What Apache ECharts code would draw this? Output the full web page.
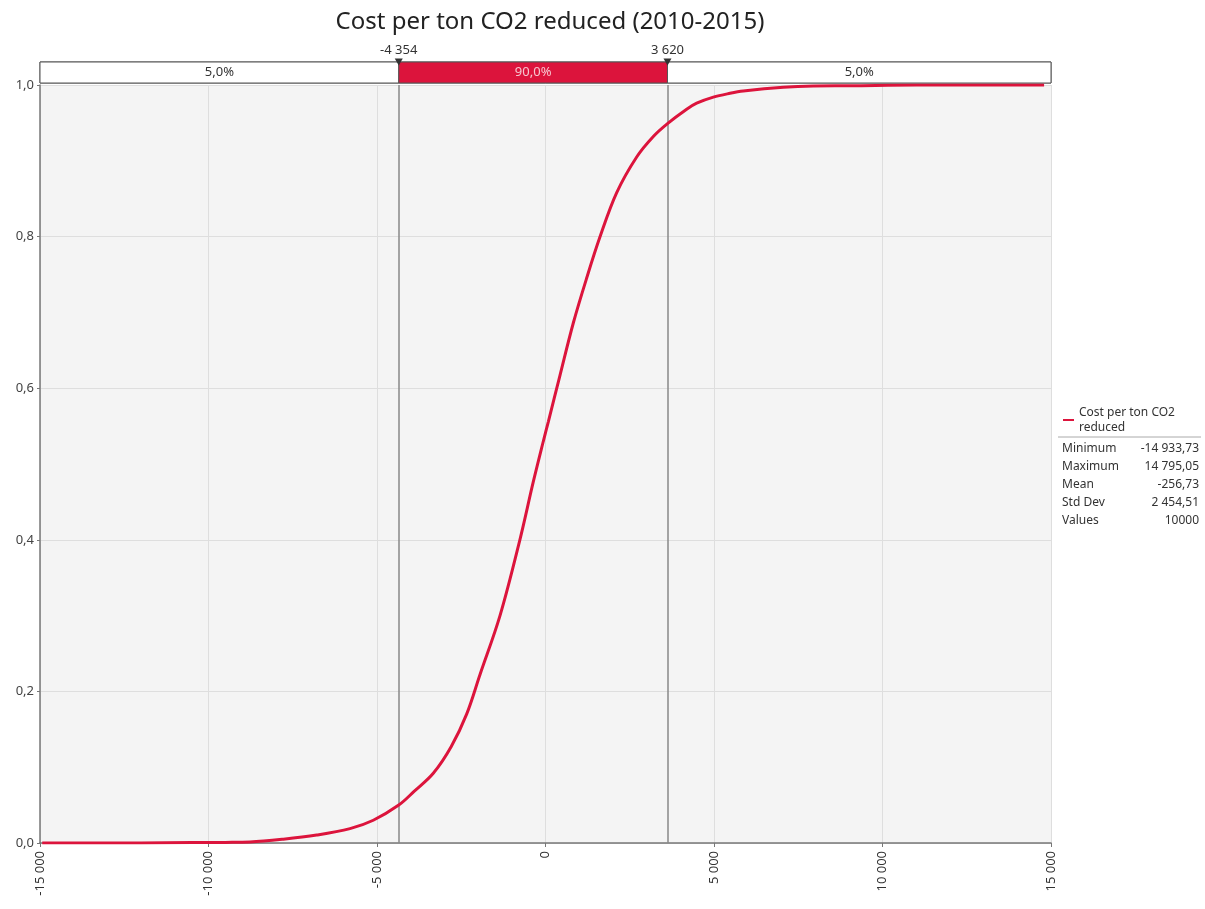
<!DOCTYPE html>
<html>
<head>
<meta charset="utf-8">
<script src="https://cdn.jsdelivr.net/npm/echarts@6/dist/echarts.min.js"></script>
<style>html,body{margin:0;padding:0;background:#fff}#c{width:1205px;height:909px}</style>
</head>
<body>
<div id="c"></div>
<script>
// ---- data ----
const seriesName = 'Cost per ton CO2 reduced';
const cdfX = [-14934, -12000, -10500, -9500, -8769, -7780, -6790, -5801, -5110, -4354, -3900, -3330, -2800, -2340, -1945, -1350, -760, -365, -65, 85, 430, 825, 1220, 1620, 2113, 2706, 3200, 3620, 4189, 4486, 4980, 5475, 5870, 7057, 7947, 9040, 11000, 14795];
const cdfY = [0, 0, 0.0005, 0.0008, 0.0013, 0.005, 0.0105, 0.019, 0.030, 0.050, 0.068, 0.092, 0.127, 0.170, 0.222, 0.300, 0.400, 0.476, 0.530, 0.556, 0.617, 0.686, 0.745, 0.800, 0.858, 0.905, 0.932, 0.949, 0.968, 0.976, 0.984, 0.989, 0.992, 0.997, 0.9987, 0.999, 1.0, 1.0];
const lowerBound = -4354;
const upperBound = 3620;
const bandPct = [5.0, 90.0, 5.0];
const xTicks = [-15000, -10000, -5000, 0, 5000, 10000, 15000];
const yTicks = [0, 0.2, 0.4, 0.6, 0.8, 1.0];
const statLabels = ['Minimum', 'Maximum', 'Mean', 'Std Dev', 'Values'];
const statValues = ['-14 933,73', '14 795,05', '-256,73', '2 454,51', '10000'];

// ---- helpers ----
function fmtThousands(v) {
  const s = Math.abs(Math.round(v)).toString().replace(/\B(?=(\d{3})+(?!\d))/g, ' ');
  return (v < 0 ? '-' : '') + s;
}
function fmtPct(v) { return v.toFixed(1).replace('.', ',') + '%'; }

const FONT = '"Noto Sans", "DejaVu Sans", sans-serif';
const RED = '#dc143c';
const xMin = -15000, xMax = 15000;

const lineData = cdfX.map((x, i) => [x, cdfY[i]]);

const statGraphics = [];
statLabels.forEach((lab, i) => {
  const y = 443 + i * 17.8;
  statGraphics.push({ type: 'text', x: 1062, y: y,
    style: { text: lab, font: '12px ' + FONT, fill: '#333', align: 'left', verticalAlign: 'top' } });
  statGraphics.push({ type: 'text', x: 1199, y: y,
    style: { text: statValues[i], font: '12px ' + FONT, fill: '#333', align: 'right', verticalAlign: 'top' } });
});

const chart = echarts.init(document.getElementById('c'), null, { renderer: 'canvas' });
chart.setOption({
  animation: false,
  backgroundColor: '#ffffff',
  textStyle: { fontFamily: FONT },
  title: {
    text: 'Cost per ton CO2 reduced (2010-2015)',
    left: 545, top: 5, textAlign: 'center',
    textStyle: { fontFamily: FONT, fontSize: 24, fontWeight: 'normal', color: '#222' }
  },
  legend: {
    left: 1058, top: 400, orient: 'vertical',
    icon: 'rect', itemWidth: 11, itemHeight: 2, itemGap: 4,
    data: [seriesName],
    formatter: () => 'Cost per ton CO2\nreduced',
    textStyle: { fontFamily: FONT, fontSize: 12, color: '#333', lineHeight: 15 }
  },
  grid: [
    { left: 40, right: 154, top: 85, bottom: 66, show: true, backgroundColor: '#f4f4f4', borderWidth: 0 },
    { left: 40, right: 154, top: 62, height: 21, show: true, backgroundColor: '#ffffff', borderColor: '#555', borderWidth: 1 }
  ],
  xAxis: [
    {
      type: 'value', gridIndex: 0, min: xMin, max: xMax, interval: 5000,
      axisLine: { show: true, onZero: false, lineStyle: { color: '#777', width: 1.5 } },
      axisTick: { show: true, length: 4, lineStyle: { color: '#777' } },
      axisLabel: { rotate: 90, margin: 8, fontFamily: FONT, fontSize: 13, color: '#333',
        formatter: v => xTicks.includes(v) ? fmtThousands(v) : '' },
      splitLine: { show: true, lineStyle: { color: '#dedede', width: 1 } }
    },
    { type: 'value', gridIndex: 1, min: xMin, max: xMax, show: false }
  ],
  yAxis: [
    {
      type: 'value', gridIndex: 0, min: 0, max: 1, interval: 0.2,
      axisLine: { show: true, onZero: false, lineStyle: { color: '#777', width: 1.5 } },
      axisTick: { show: true, length: 3, lineStyle: { color: '#777' } },
      axisLabel: { margin: 6, fontFamily: FONT, fontSize: 13, color: '#444',
        formatter: v => yTicks.some(t => Math.abs(t - v) < 1e-9) ? v.toFixed(1).replace('.', ',') : '' },
      splitLine: { show: true, lineStyle: { color: '#dedede', width: 1 } }
    },
    { type: 'value', gridIndex: 1, min: 0, max: 1, show: false }
  ],
  series: [
    {
      name: seriesName, type: 'line', xAxisIndex: 0, yAxisIndex: 0,
      data: lineData, showSymbol: false, smooth: 0.35,
      lineStyle: { color: RED, width: 3 }, itemStyle: { color: RED },
      z: 5,
      markLine: {
        silent: true, symbol: ['none', 'none'], label: { show: false },
        lineStyle: { color: '#888', width: 1.5, type: 'solid' },
        data: [{ xAxis: lowerBound }, { xAxis: upperBound }],
        z: 3
      }
    },
    {
      name: 'band', type: 'line', xAxisIndex: 1, yAxisIndex: 1, data: [],
      markArea: {
        silent: true,
        data: [
          [{ xAxis: xMin, yAxis: 0, itemStyle: { color: '#ffffff', borderColor: '#555', borderWidth: 1 },
             label: { show: true, position: 'inside', formatter: fmtPct(bandPct[0]), color: '#333', fontFamily: FONT, fontSize: 13 } },
           { xAxis: lowerBound, yAxis: 1 }],
          [{ xAxis: lowerBound, yAxis: 0, itemStyle: { color: RED, borderColor: '#555', borderWidth: 1 },
             label: { show: true, position: 'inside', formatter: fmtPct(bandPct[1]), color: '#f6c6cf', fontFamily: FONT, fontSize: 13 } },
           { xAxis: upperBound, yAxis: 1 }],
          [{ xAxis: upperBound, yAxis: 0, itemStyle: { color: '#ffffff', borderColor: '#555', borderWidth: 1 },
             label: { show: true, position: 'inside', formatter: fmtPct(bandPct[2]), color: '#333', fontFamily: FONT, fontSize: 13 } },
           { xAxis: xMax, yAxis: 1 }]
        ]
      },
      markPoint: {
        silent: true, symbol: 'triangle', symbolRotate: 180, symbolSize: [8, 7],
        itemStyle: { color: '#333' },
        label: { show: true, position: 'top', distance: 2, color: '#333', fontFamily: FONT, fontSize: 13,
          formatter: p => fmtThousands(p.value) },
        data: [
          { coord: [lowerBound, 1], value: lowerBound },
          { coord: [upperBound, 1], value: upperBound }
        ]
      }
    }
  ],
  graphic: [
    { type: 'line', shape: { x1: 1058, y1: 437, x2: 1201, y2: 437 }, style: { stroke: '#aaa', lineWidth: 1 } }
  ].concat(statGraphics)
});
</script>
</body>
</html>
